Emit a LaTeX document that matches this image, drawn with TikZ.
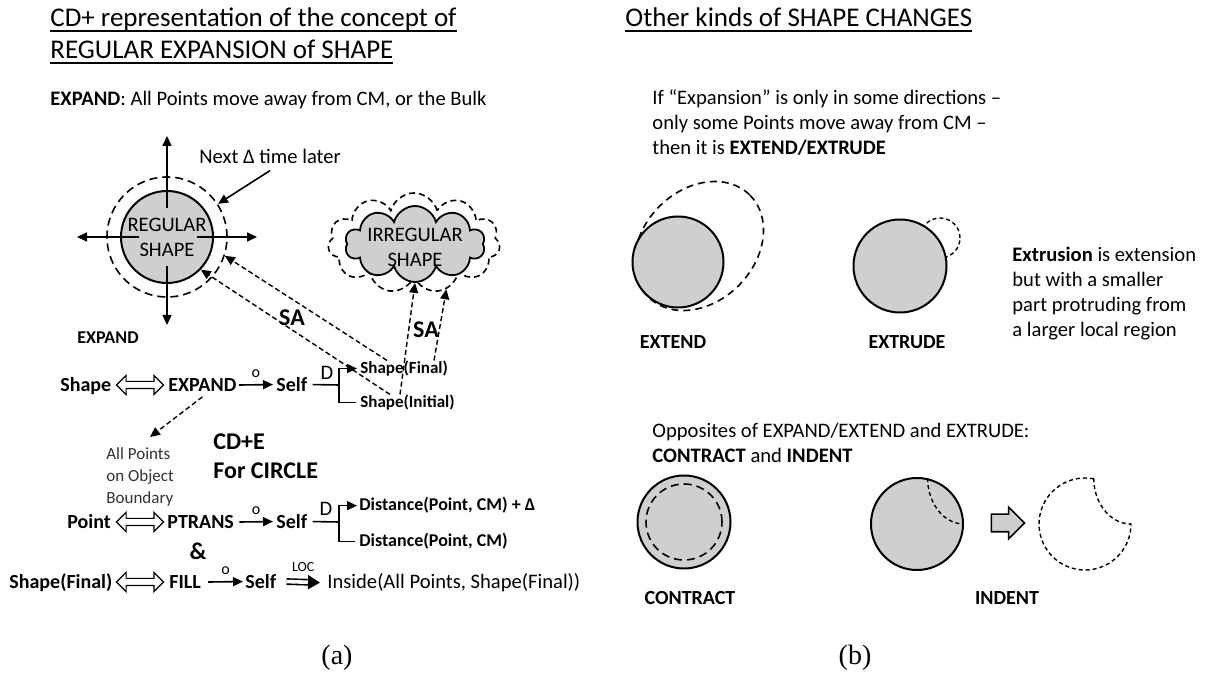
\documentclass[tikz,border=0pt]{standalone}
\usepackage{fontspec}
\setmainfont{Carlito}
\newfontfamily\capfont{Liberation Serif}
\usetikzlibrary{arrows.meta,positioning,shapes.geometric,shapes.symbols,shapes.arrows}
\newcommand\undl[1]{\setbox0\hbox{#1}\rlap{\rule[-2.3pt]{\wd0}{0.7pt}}\box0}

\begin{document}
\begin{tikzpicture}[x=0.5pt,y=-0.5pt,
  txt/.style={inner sep=0pt,font=\fontsize{10.3}{12.5}\selectfont},
  bld/.style={inner sep=0pt,font=\fontsize{10}{12.5}\selectfont\bfseries},
  sml/.style={inner sep=0pt,font=\fontsize{8.5}{10}\selectfont\bfseries},
  big/.style={inner sep=0pt,font=\fontsize{12}{14.5}\selectfont\bfseries},
  ttl/.style={inner sep=0pt,font=\fontsize{13.5}{16}\selectfont,anchor=base west},
  lab/.style={inner sep=0pt,font=\fontsize{8}{9}\selectfont},
  disc/.style={circle,draw,line width=1pt,fill=black!19,minimum size=46pt,inner sep=0pt},
  ring/.style={circle,draw,line width=0.8pt,dash pattern=on 4pt off 2.5pt,inner sep=0pt},
  idash/.style={line width=0.7pt,dash pattern=on 2pt off 1.5pt},
  arr/.style={-{Triangle[length=5pt,width=4.5pt]},line width=0.8pt},
  darr/.style={-{Triangle[length=5pt,width=4.5pt]},line width=0.7pt,dash pattern=on 2.5pt off 1.5pt},
  dimp/.style={double,double distance=1.8pt,line width=0.8pt,-{Triangle[length=6pt,width=7pt]}},
  dblarr/.style={double arrow,draw,line width=0.6pt,minimum height=23.5pt,minimum width=9pt,double arrow head extend=3pt,inner sep=1.5pt}]
  \useasboundingbox (0,0) rectangle (1205,683);

  \node[ttl] (ttlA)  at (50,27)  {\undl{CD+ representation of the concept of}};
  \node[ttl] (ttlA2) at (50,59)  {\undl{REGULAR EXPANSION of SHAPE}};
  \node[ttl] (ttlB)  at (625,27) {\undl{Other kinds of SHAPE CHANGES}};
  \node[txt,anchor=base west] (expdef) at (50,106) {\textbf{EXPAND}: All Points move away from CM, or the Bulk};

  \node[ring,minimum size=60pt] (regd) at (167,237) {};
  \node[disc] (reg) at (167,237) {};
  \node[txt,align=center] (regtxt) at (167,237) {REGULAR\\SHAPE};
  \draw[arr] ([yshift=14.5pt]reg.center) -- ++(0,-72);
  \draw[arr] ([yshift=-14.5pt]reg.center) -- ++(0,59);
  \draw[arr] ([xshift=-14pt]reg.center) -- ++(-62,0);
  \draw[arr] ([xshift=15pt]reg.center) -- ++(60,0);
  \node[txt,anchor=base west] (nxt) at (199,164) {Next Δ time later};
  \draw[arr] ([yshift=-3pt]nxt.south) -- (regd.33);

  \node[cloud,cloud puffs=11,aspect=1.9,draw,line width=0.8pt,dash pattern=on 3pt off 2pt,minimum width=86pt,minimum height=50pt] (irrd) at (414,243) {};
  \node[cloud,cloud puffs=10,aspect=1.9,draw,line width=0.9pt,fill=black!19,minimum width=70pt,minimum height=38pt] (irr) at (415,244) {};
  \node[txt,align=center] (irrtxt) at (415,247) {IRREGULAR\\SHAPE};

  \node[big] (sa1) at (292,318) {SA};
  \node[big] (sa2) at (426,330) {SA};
  \node[bld,font=\fontsize{9}{11}\selectfont\bfseries] (explab) at (108,338) {EXPAND};

  \node[bld,anchor=base west] (shp) at (60,391.5) {Shape};
  \node[dblarr] (dbl1) at (140,385) {};
  \node[bld,anchor=base west] (expd) at (168,391.5) {EXPAND};
  \node[bld,anchor=base west] (self1) at (276,391.5) {Self};
  \node[sml,anchor=base west] (shpF) at (360,373.5) {Shape(Final)};
  \node[sml,anchor=base west] (shpI) at (360,407.5) {Shape(Initial)};
  \node[txt] (d1) at (327,373) {D};
  \coordinate (jn1) at (339,385);
  \draw[arr] ([xshift=1pt]expd.east) -- node[lab,above=3pt]{o} ([xshift=-1.5pt]self1.west);
  \draw[line width=0.8pt] ([xshift=2.5pt]self1.east) -- (jn1);
  \draw[arr] ([xshift=-2pt]shpI.west) -| (jn1 |- shpF.west) -- ([xshift=-1.5pt]shpF.west);
  \draw[darr] ([xshift=13.5pt]shpF.north west) -- (regd.-18);
  \draw[darr] ([xshift=15pt]shpI.north west) -- (reg.-44);
  \draw[darr] ([xshift=20pt]shpI.north west) -- (irr.south);
  \draw[darr] ([xshift=37pt]shpF.north west) -- (irrd.-55);

  \node[txt,font=\fontsize{8.5}{11}\selectfont,text=black!80,align=left,anchor=north west] (allpt) at (106,447) {All Points\\on Object\\Boundary};
  \coordinate (apt) at (150,437);
  \draw[darr] ([yshift=-2.5pt]expd.south) -- (apt);
  \node[big,align=left,anchor=north west] (cde) at (213,433) {CD+E\\For CIRCLE};

  \node[bld,anchor=base west] (pnt) at (67,528.5) {Point};
  \node[dblarr] (dbl2) at (140,522) {};
  \node[bld,anchor=base west] (ptr) at (167,528.5) {PTRANS};
  \node[bld,anchor=base west] (self2) at (276,528.5) {Self};
  \node[bld,font=\fontsize{9}{11}\selectfont\bfseries,anchor=base west] (dst1) at (359,511) {Distance(Point, CM) + Δ};
  \node[bld,font=\fontsize{9}{11}\selectfont\bfseries,anchor=base west] (dst2) at (359,547) {Distance(Point, CM)};
  \node[txt] (d2) at (326,509) {D};
  \coordinate (jn2) at (339,522);
  \draw[arr] ([xshift=2.5pt]ptr.east) -- node[lab,above=3pt]{o} ([xshift=-1.5pt]self2.west);
  \draw[line width=0.8pt] ([xshift=2.5pt]self2.east) -- (jn2);
  \draw[arr] ([xshift=-2pt]dst2.west) -| (jn2 |- dst1.west) -- ([xshift=-1pt]dst1.west);
  \node[big] (amp) at (198,551) {\&};

  \node[bld,anchor=base west] (shpF2) at (9,588.5) {Shape(Final)};
  \node[dblarr] (dbl3) at (140,582) {};
  \node[bld,anchor=base west] (fil) at (169,588.5) {FILL};
  \node[bld,anchor=base west] (self3) at (245,588.5) {Self};
  \node[txt,anchor=base west] (insd) at (327,588.5) {Inside(All Points, Shape(Final))};
  \draw[arr] ([xshift=3.5pt]fil.east) -- node[lab,above=3pt]{o} ([xshift=-1pt]self3.west);
  \draw[dimp] ([xshift=5pt]self3.east) -- node[lab,font=\fontsize{7}{8}\selectfont,above=5pt]{LOC} ([xshift=-3.5pt]insd.west);

  \node[font=\capfont\fontsize{14}{16}\selectfont,inner sep=0pt] (capA) at (337,658) {(a)};
  \node[font=\capfont\fontsize{14}{16}\selectfont,inner sep=0pt] (capB) at (855,658) {(b)};

  \node[txt,align=left,anchor=north west] (para1) at (652,89) {If “Expansion” is only in some directions –\\only some Points move away from CM –\\then it is \textbf{EXTEND/EXTRUDE}};
  \draw[line width=0.8pt,dash pattern=on 3.5pt off 2.5pt,rotate around={45:(699,246)}] (699,246) ellipse [x radius=72,y radius=56];
  \node[disc,minimum size=45.5pt] (ext) at (678,262) {};
  \node[bld] (extlab) at (673,342) {EXTEND};
  \node[ring,minimum size=20pt,line width=0.7pt,dash pattern=on 2pt off 1.5pt] (bump) at (940,238) {};
  \node[disc,minimum size=46.5pt] (exr) at (900,266) {};
  \node[bld] (exrlab) at (907,342) {EXTRUDE};
  \node[txt,align=left,anchor=north west] (extr) at (1012,247) {\textbf{Extrusion} is extension\\but with a smaller\\part protruding from\\a larger local region};

  \node[txt,align=left,anchor=north west] (para2) at (652,423) {Opposites of EXPAND/EXTEND and EXTRUDE:\\\textbf{CONTRACT} and \textbf{INDENT}};
  \node[disc,minimum size=46.5pt] (con) at (684,522) {};
  \node[ring,minimum size=38pt] (cond) at (684,522) {};
  \node[bld] (conlab) at (690,598) {CONTRACT};
  \node[disc] (ind) at (917,524) {};
  \draw[idash] (ind.77) .. controls +(0,24) and +(-21,0) .. (ind.east);
  \node[single arrow,draw,fill=black!19,line width=0.8pt,minimum height=16.5pt,minimum width=15pt,single arrow head extend=3.5pt,inner sep=4pt] (blk) at (1003.5,523) {};
  \coordinate (ic) at (1085,524);
  \draw[idash] ([shift={(-79:46)}]ic) arc[start angle=-79,end angle=-360,radius=46] .. controls +(-21,0) and +(0,24) .. ([shift={(-79:46)}]ic);
  \node[bld] (indlab) at (1007,598) {INDENT};
\end{tikzpicture}
\end{document}
